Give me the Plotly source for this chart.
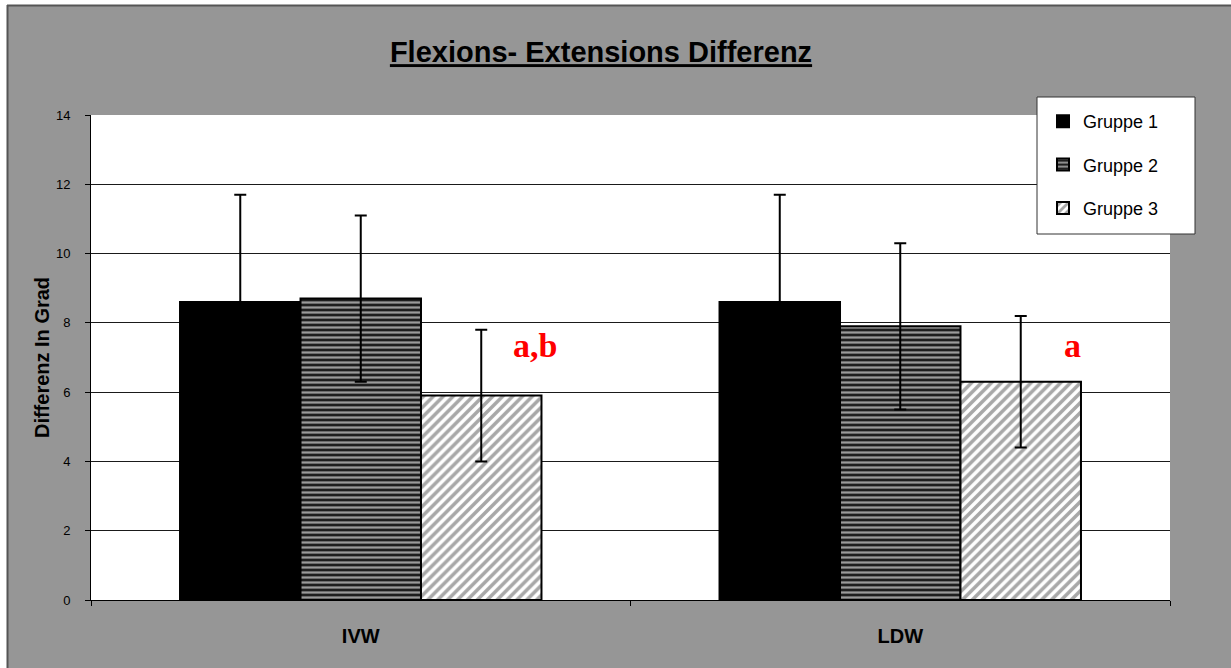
import plotly.graph_objects as go

# Daten
categories = ["IVW", "LDW"]
groups = ["Gruppe 1", "Gruppe 2", "Gruppe 3"]
means = {
    "Gruppe 1": [8.6, 8.6],
    "Gruppe 2": [8.7, 7.9],
    "Gruppe 3": [5.9, 6.3],
}
sd = {
    "Gruppe 1": [3.1, 3.1],
    "Gruppe 2": [2.4, 2.4],
    "Gruppe 3": [1.9, 1.9],
}
sig_labels = ["a,b", "a"]
y_ticks = [0, 2, 4, 6, 8, 10, 12, 14]

W, H = 1231, 668
L, R, T, B = 91, 61, 115, 68
PW, PH = W - L - R, H - T - B


def px_x(p):
    return (p - L) / PW


def px_y(p):
    return (H - B - p) / PH


styles = {
    "Gruppe 1": dict(color="#000000"),
    "Gruppe 2": dict(color="#1e1e1e",
                     pattern=dict(shape="-", bgcolor="#1e1e1e", fgcolor="#9a9a9a",
                                  size=5, solidity=0.45, fillmode="replace")),
    "Gruppe 3": dict(color="#ffffff",
                     pattern=dict(shape="/", bgcolor="#ffffff", fgcolor="#a8a8a8",
                                  size=7, solidity=0.5, fillmode="replace")),
}

fig = go.Figure()
for g in groups:
    fig.add_trace(go.Bar(
        name=g, x=categories, y=means[g], legendgroup=g,
        marker=dict(line=dict(color="#000000", width=2), **styles[g]),
        error_y=dict(type="data", array=sd[g], visible=True,
                     color="#000000", thickness=2, width=6),
    ))

# Signifikanz-Kennzeichnung
for txt, xp in zip(sig_labels, [535, 1072.5]):
    fig.add_annotation(
        text=txt, xref="paper", yref="paper", x=px_x(xp), y=px_y(345),
        showarrow=False, xanchor="center", yanchor="middle",
        font=dict(family="Liberation Serif, Times New Roman, serif",
                  size=34, color="#ff0000", weight="bold"),
    )

shapes = [
    # weißer Rand oben und links
    dict(type="rect", xref="paper", yref="paper", layer="above",
         x0=px_x(-2), x1=px_x(7), y0=px_y(H + 2), y1=px_y(-2),
         fillcolor="#ffffff", line=dict(width=0)),
    dict(type="rect", xref="paper", yref="paper", layer="above",
         x0=px_x(-2), x1=px_x(W + 2), y0=px_y(5), y1=px_y(-2),
         fillcolor="#ffffff", line=dict(width=0)),
    dict(type="line", xref="paper", yref="paper", layer="above",
         x0=px_x(7), x1=px_x(W + 2), y0=px_y(5.5), y1=px_y(5.5),
         line=dict(color="#555555", width=2)),
    dict(type="line", xref="paper", yref="paper", layer="above",
         x0=px_x(7.5), x1=px_x(7.5), y0=px_y(5), y1=px_y(H + 2),
         line=dict(color="#555555", width=2)),
    # Legendenrahmen
    dict(type="rect", xref="paper", yref="paper", layer="above",
         x0=px_x(1037), x1=px_x(1195), y0=px_y(234), y1=px_y(97),
         fillcolor="#ffffff", line=dict(color="#333333", width=1)),
]

fig.update_layout(
    width=W, height=H,
    margin=dict(l=L, r=R, t=T, b=B, pad=0),
    paper_bgcolor="#969696",
    plot_bgcolor="#ffffff",
    barmode="group", bargap=0.33, bargroupgap=0,
    font=dict(family="Liberation Sans, Arial, sans-serif", color="#000000"),
    title=dict(
        text="<b><span style='text-decoration:underline'>Flexions- Extensions Differenz</span></b>",
        x=601 / W, y=1 - 52 / H, xref="container", yref="container",
        xanchor="center", yanchor="middle",
        font=dict(size=29, color="#000000"),
    ),
    legend=dict(
        x=px_x(1043), y=px_y(103), xanchor="left", yanchor="top",
        bgcolor="rgba(0,0,0,0)", borderwidth=0,
        font=dict(size=18, color="#000000"),
        tracegroupgap=17, traceorder="grouped",
    ),
    shapes=shapes,
    showlegend=True,
)

fig.update_xaxes(
    type="category", showline=True, linecolor="#000000", linewidth=1,
    ticks="outside", ticklen=5, tickcolor="#000000", tickson="boundaries",
    tickfont=dict(size=20, weight="bold"), ticklabelstandoff=18,
    showgrid=False, zeroline=False,
)
fig.update_yaxes(
    range=[0, 14], tickvals=y_ticks, showline=True, linecolor="#000000", linewidth=1,
    ticks="outside", ticklen=5, tickcolor="#000000",
    tickfont=dict(size=13), ticklabelstandoff=12,
    showgrid=True, gridcolor="#1a1a1a", gridwidth=1, zeroline=False,
    title=dict(text="<b>Differenz In Grad</b>", font=dict(size=20), standoff=0),
)

fig.write_html("out.html")
